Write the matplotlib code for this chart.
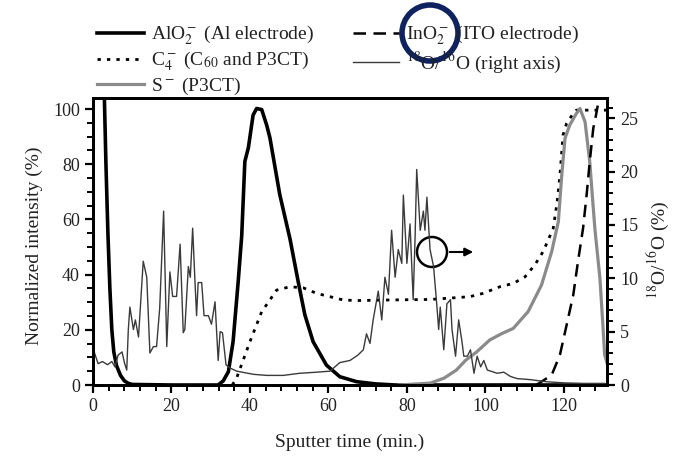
import matplotlib
matplotlib.use("Agg")
import matplotlib.pyplot as plt
from matplotlib.patches import Ellipse
from matplotlib.ticker import MultipleLocator

plt.rcParams['font.family'] = ['Liberation Serif', 'DejaVu Serif']
plt.rcParams['mathtext.fontset'] = 'stix'

# ---- data ----
alo2_t = [0, 2.0, 2.8, 3.3, 3.8, 4.3, 4.8, 5.3, 6.0, 7.0, 8.0, 9.0, 10.0, 20, 30, 31.9, 33.2, 34.5, 35.7, 37.0,
          37.9, 38.7, 39.6, 40.8, 41.7, 43.0, 44.3, 45.1, 47.6, 50.2, 52.3, 54.0, 56.1, 59.5, 62.9, 67.2,
          72, 77, 85, 131]
alo2_v = [300, 200, 110, 80, 55, 35, 20, 12, 7, 3.5, 1.5, 0.6, 0.2, 0, 0, 0, 1.5, 4.8, 15.7, 37.4,
          54, 81, 86, 97.8, 100.2, 99.8, 94, 89.5, 69, 53, 37.4, 25.4, 15.7, 7.2, 3, 1.2,
          0.4, 0, 0, 0]

ino2_t = [113, 116.9, 119.0, 120.7, 122.4, 123.6, 124.9, 125.8, 126.6, 127.5, 128.2, 129.5]
ino2_v = [0, 3.6, 10.9, 21.7, 32.6, 44.7, 56.8, 68.8, 80.9, 93, 97.8, 108]

c4_t = [35.5, 36.6, 40.0, 43.0, 44.7, 46.8, 50.2, 53.6, 57.0, 63.8, 67.2, 75, 86, 96, 99.4, 103.7,
        107.1, 110.1, 112.6, 114.7, 116.0, 117.3, 118.3, 119.0, 119.8, 120.7, 122.4, 123.2, 126, 128.7, 131]
c4_v = [0, 2.5, 15.7, 26.6, 30, 34.4, 35.6, 35.2, 33.2, 30.8, 30.6, 30.8, 31, 32, 33.2, 35.6,
        36.8, 39.2, 43.5, 48.3, 52.5, 56.8, 66.4, 76, 90.6, 94.8, 98.4, 99.6, 99.6, 99.6, 99.6]

s_t = [78, 86, 89.5, 92.6, 95.0, 97.8, 101.1, 104, 107.1, 110.9, 114.3, 116.9, 118.6, 119.4, 120.3,
       121.5, 123.2, 124.1, 125.4, 126.6, 127.9, 129.2, 130.0, 130.4, 131]
s_v = [0, 0.7, 2.5, 5.4, 9.0, 12, 16.3, 18.5, 20.5, 26.6, 36.2, 48.3, 59.2, 74.9, 89.4,
       94.2, 98.4, 100.2, 95.4, 80.9, 56.8, 38.6, 20.5, 11, 8]

# 18O/16O ratio (%) on right axis
o_t = [0.3, 1.3, 2.4, 3.7, 4.8, 5.6, 6.4, 7.4, 8.0, 8.6, 9.0, 9.4, 10.3, 10.8, 11.6, 12.8, 13.7, 14.5,
       15.4, 16.2, 17.0, 18.0, 18.8, 19.6, 20.3, 21.3, 22.2, 23.0, 23.4, 24.3, 24.8, 25.4, 26.0, 26.4,
       26.8, 27.7, 28.3, 29.4, 30.2, 31.1, 31.9, 32.4, 33.0, 33.9, 34.9, 36.6, 40.9, 44.3, 48.5, 52.7,
       57.0, 60.4, 62.9, 65.5, 67.5, 68.9, 69.7, 70.6, 71.4, 72.7, 73.6, 74.4, 75.3, 76.1, 77.0, 77.8,
       78.7, 79.1, 80.0, 80.8, 81.6, 82.1, 82.5, 83.4, 84.2, 84.6, 85.1, 85.9, 86.8, 87.6, 88.1, 88.5,
       89.4, 90.2, 91.1, 91.5, 92.4, 93.2, 94.1, 94.5, 95.4, 96.2, 97.1, 97.9, 98.8, 99.6, 100.5, 102.2,
       103.0, 104.7, 106.4, 108.1, 111.5, 115.7, 120.0, 125.0, 130.3]
o_r = [3.1, 2.0, 2.2, 1.9, 2.2, 1.7, 2.8, 3.1, 2.1, 1.4, 5.2, 7.3, 5.2, 6.1, 4.5, 11.6, 10.1, 3.0,
       3.6, 3.6, 7.2, 16.3, 3.6, 10.6, 8.3, 8.3, 13.2, 4.9, 5.2, 11.1, 10.1, 14.7, 9.6, 6.5,
       9.6, 9.6, 6.5, 6.5, 5.7, 7.8, 2.3, 5.0, 4.9, 1.9, 1.6, 1.3, 1.0, 0.9, 0.9, 1.1,
       1.2, 1.3, 2.1, 2.3, 2.8, 3.3, 4.8, 3.9, 6.1, 8.8, 6.1, 10.1, 8.5, 14.5, 10.1, 12.7,
       11.4, 17.8, 11.4, 15.1, 8.0, 14.0, 20.2, 14.5, 16.3, 14.5, 17.6, 12.7, 11.1, 7.6, 5.2, 7.3,
       3.3, 7.6, 8.0, 5.2, 2.7, 6.1, 3.9, 2.7, 2.7, 3.3, 1.1, 2.7, 1.7, 2.3, 1.4, 1.2,
       1.1, 1.2, 0.8, 0.6, 0.5, 0.3, 0.2, 0.15, 0.15]

labels = ["AlO$_2^-$ (Al electrode)", "C$_4^-$ (C$_{60}$ and P3CT)", "S$^-$ (P3CT)",
          "InO$_2^-$ (ITO electrode)", "$^{18}$O/$^{16}$O (right axis)"]

# ---- figure ----
fig = plt.figure(figsize=(6.78, 4.61), dpi=100)
ax = fig.add_axes([93/678, 1-385/461, (607-93)/678, (385-98)/461])
ax2 = ax.twinx()

txt = '#222222'
l_al, = ax.plot(alo2_t, alo2_v, color='black', lw=2.6, label=labels[0])
l_c4, = ax.plot(c4_t, c4_v, color='black', lw=2.0, linestyle=(0, (1.2, 2.2)), label=labels[1])
l_s, = ax.plot(s_t, s_v, color='#8a8a8a', lw=2.3, label=labels[2])
l_in, = ax.plot(ino2_t, ino2_v, color='black', lw=1.8, linestyle=(0, (5, 3)), label=labels[3])
l_o, = ax2.plot(o_t, o_r, color='#3a3a3a', lw=1.0, label=labels[4])

ax.set_xlim(0, 131)
ax.set_ylim(0, 104)
ax2.set_ylim(0, 26.9)

ax.xaxis.set_major_locator(MultipleLocator(20))
ax.xaxis.set_minor_locator(MultipleLocator(4))
ax.yaxis.set_major_locator(MultipleLocator(20))
ax.yaxis.set_minor_locator(MultipleLocator(5))
ax2.yaxis.set_major_locator(MultipleLocator(5))
ax2.yaxis.set_minor_locator(MultipleLocator(1))

for a in (ax, ax2):
    for sp in a.spines.values():
        sp.set_linewidth(2.0)
ax.tick_params(which='major', direction='out', length=6, width=1.6, labelsize=13, colors='black', labelcolor=txt)
ax.tick_params(which='minor', direction='out', length=4, width=1.4)
ax2.tick_params(which='major', direction='out', length=6, width=1.6, labelsize=13, labelcolor=txt)
ax2.tick_params(which='minor', direction='out', length=4, width=1.4)

ax.set_xlabel("Sputter time (min.)", fontsize=14, color=txt)
ax.xaxis.set_label_coords(0.5, -0.17)
ax.set_ylabel("Normalized intensity (%)", fontsize=14, color=txt)
ax.yaxis.set_label_coords(-0.097, 0.485)
ax2.set_ylabel("$^{18}$O/$^{16}$O (%)", fontsize=14, color=txt)
ax2.yaxis.set_label_coords(1.075, 0.47)

fig.legend(handles=[l_al, l_c4, l_s, l_in, l_o], ncol=2, loc='upper left',
           bbox_to_anchor=(97/678, 1-24/461), frameon=False, fontsize=14,
           borderpad=0, borderaxespad=0,
           handlelength=2.4, handletextpad=0.36, columnspacing=2.0, labelspacing=0.12,
           labelcolor=txt)

# circle + arrow pointing to the right axis
ax.add_patch(Ellipse((432/678, 1-252/461), 30/678, 30/461, transform=fig.transFigure,
                     fill=False, lw=1.8, color='black', clip_on=False))
ax.annotate("", xy=(476/678, 1-252/461), xytext=(447/678, 1-252/461),
            xycoords='figure fraction', textcoords='figure fraction',
            arrowprops=dict(arrowstyle='-|>', color='black', lw=1.5, mutation_scale=12))

# blue highlight circle around InO2 in legend
fig.patches.append(Ellipse((430/678, 1-33/461), 56/678, 56/461, transform=fig.transFigure,
                           fill=False, lw=4, edgecolor='#0f2260', figure=fig))

fig.savefig("out.png", dpi=100)
